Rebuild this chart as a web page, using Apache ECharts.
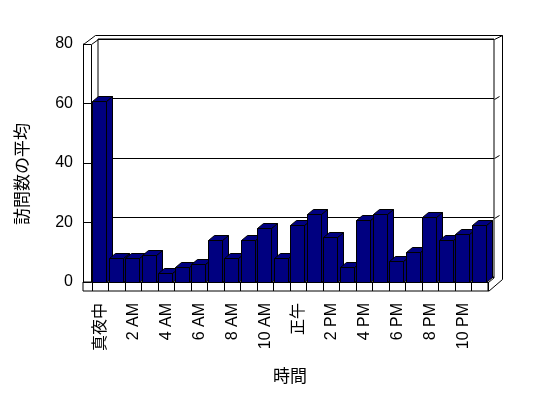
<!DOCTYPE html>
<html>
<head>
<meta charset="utf-8">
<script src="https://cdn.jsdelivr.net/npm/echarts@6/dist/echarts.min.js"></script>
<style>
html,body{margin:0;padding:0;background:#fff}
#chart{width:548px;height:398px}
</style>
</head>
<body>
<div id="chart"></div>
<script>
var hours = ['真夜中','1 AM','2 AM','3 AM','4 AM','5 AM','6 AM','7 AM','8 AM','9 AM','10 AM','11 AM',
             '正午','1 PM','2 PM','3 PM','4 PM','5 PM','6 PM','7 PM','8 PM','9 PM','10 PM','11 PM'];
var visits = [61,8,8,9,3,5,6,14,8,14,18,8,19,23,15,5,21,23,7,10,22,14,16,19];
var yMin = 0, yMax = 80, yStep = 20;
var yTitle = '訪問数の平均';
var xTitle = '時間';

var FONT = '"Liberation Sans", "Noto Sans CJK JP", sans-serif';
var front = {left: 92, top: 44, width: 396, height: 238};
var back = {left: 98, top: 39, width: 396, height: 238};
var DX = 6, DY = -5;

function renderBar(params, api) {
    var i = api.value(0), v = api.value(1);
    var top = api.coord([i, v]);
    var base = api.coord([i, 0]);
    var band = api.size([1, 0])[0];
    var w = Math.round(band * 0.82);
    var x0 = Math.round(top[0] - w / 2) - 0.5;
    var x1 = x0 + w;
    var y0 = Math.round(top[1]) + 0.5;
    var y1 = Math.round(base[1]) + 0.5;
    var st = {fill: '#000080', stroke: '#000', lineWidth: 1};
    return {type: 'group', children: [
        {type: 'polygon', shape: {points: [[x1, y0], [x1 + DX, y0 + DY], [x1 + DX, y1 + DY], [x1, y1]]}, style: st},
        {type: 'polygon', shape: {points: [[x0, y0], [x0 + DX, y0 + DY], [x1 + DX, y0 + DY], [x1, y0]]}, style: st},
        {type: 'rect', shape: {x: x0, y: y0, width: w, height: y1 - y0}, style: st}
    ]};
}

// frame lines of the 3D box
function frameLines() {
    var L = front.left - 9 + 0.5, Li = front.left - 1 + 0.5;
    var fT = front.top + 0.5, fB = front.top + front.height + 0.5;
    var bL = back.left + 0.5, bR = back.left + back.width + 0.5;
    var bT = back.top + 0.5, bB = back.top + back.height + 0.5;
    var fR = front.left + front.width + 0.5;
    var tT = bT - 4, rR = bR + 8;
    var segs = [
        [[Li, fT], [Li, fB]],
        [[L, fT], [bL - 3, tT]],
        [[Li, fT], [bL, bT]],
        [[bL - 3, tT], [rR, tT]],
        [[bR, bT], [rR, tT]],
        [[rR, tT], [rR, bB + 2]],
        [[fR, fB], [bR, bB]],
        [[fR, fB + 9], [rR, bB + 2]]
    ];
    var step = back.height / ((yMax - yMin) / yStep);
    for (var k = 1; k < (yMax - yMin) / yStep; k++) {
        var gy = Math.round(back.top + k * step) + 0.5;
        segs.push([[bR, gy], [bR + 5, gy - 3]]);
    }
    return segs.map(function (s) {
        return {type: 'line', shape: {x1: s[0][0], y1: s[0][1], x2: s[1][0], y2: s[1][1]},
                style: {stroke: '#000', lineWidth: 1}, z: 5};
    });
}

var chart = echarts.init(document.getElementById('chart'));
var option = {
    animation: false,
    backgroundColor: '#fff',
    textStyle: {fontFamily: FONT},
    grid: [
        {left: back.left, top: back.top, width: back.width, height: back.height,
         show: true, borderColor: '#000', borderWidth: 1, backgroundColor: '#fff'},
        {left: front.left - 9, top: front.top + front.height, width: front.width + 9, height: 9,
         show: true, borderColor: '#000', borderWidth: 1},
        {left: front.left, top: front.top, width: front.width, height: front.height}
    ],
    xAxis: [
        {gridIndex: 0, type: 'category', data: hours, show: false},
        {gridIndex: 1, type: 'value', min: 0, max: 1, show: false},
        {gridIndex: 2, type: 'category', data: hours,
         axisLine: {lineStyle: {color: '#000', width: 1}},
         axisTick: {show: true, interval: 0, length: 9, lineStyle: {color: '#000'}},
         axisLabel: {interval: 1, rotate: 90, margin: 21, fontSize: 16, color: '#000', fontFamily: FONT},
         name: xTitle, nameLocation: 'middle', nameGap: 87,
         nameTextStyle: {fontSize: 17, color: '#000', fontFamily: FONT},
         splitLine: {show: false}}
    ],
    yAxis: [
        {gridIndex: 0, type: 'value', min: yMin, max: yMax, interval: yStep,
         axisLine: {show: false}, axisTick: {show: false}, axisLabel: {show: false},
         splitLine: {show: true, lineStyle: {color: '#000', width: 1}}},
        {gridIndex: 1, type: 'value', min: 0, max: 1, show: false},
        {gridIndex: 2, type: 'value', min: yMin, max: yMax, interval: yStep, offset: 9,
         axisLine: {show: true, lineStyle: {color: '#000', width: 1}},
         axisTick: {show: true, inside: true, length: 8, lineStyle: {color: '#000'}},
         axisLabel: {fontSize: 16, color: '#000', margin: 10, fontFamily: FONT},
         splitLine: {show: false}}
    ],
    graphic: [
        {type: 'text', x: 23, y: 174, rotation: Math.PI / 2,
         style: {text: yTitle, fontSize: 17, fill: '#000', fontFamily: FONT,
                 align: 'center', verticalAlign: 'middle'}}
    ].concat(frameLines()),
    series: [
        {type: 'custom', xAxisIndex: 2, yAxisIndex: 2, z: 10,
         renderItem: renderBar,
         data: visits.map(function (v, i) { return [i, v]; })}
    ]
};
chart.setOption(option);
</script>
</body>
</html>
